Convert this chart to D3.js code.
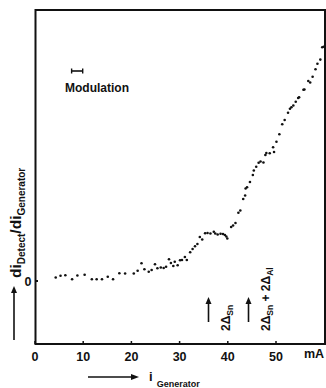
<!DOCTYPE html>
<html>
<head>
<meta charset="utf-8">
<script src="https://cdn.jsdelivr.net/npm/d3@7"></script>
<style>
  body { margin: 0; background: #fff; }
  svg { display: block; font-family: "Liberation Sans", Arial, sans-serif; font-weight: bold; }
</style>
</head>
<body>
<div id="chart"></div>
<script>
// generator current (mA) and detector response (arbitrary units, 0 = baseline)
const iGen = [
  4.4, 5.4, 6.4, 7.8, 8.9, 10.4, 11.9, 12.9, 14.0, 15.2, 16.3, 17.6, 18.8, 20.6,
  21.4, 22.2, 22.8, 23.7, 24.3, 25.0, 25.5, 26.2, 26.8, 27.3, 27.9, 28.3, 28.8,
  29.1, 29.7, 30.2, 30.6, 31.2, 31.6, 32.3, 32.8, 33.3, 33.8, 34.3, 34.8, 35.4,
  35.9, 36.5, 37.2, 37.5, 38.0, 38.6, 39.1, 39.5, 39.8, 40.0, 40.8, 41.2, 41.7,
  42.3, 42.7, 43.3, 43.7, 43.8, 44.1, 44.7, 45.3, 45.5, 46.0, 46.5, 46.9, 47.5,
  47.9, 48.1, 48.8, 49.5, 49.7, 50.2, 50.8, 51.4, 51.9, 52.6, 53.0, 53.3, 53.7,
  54.2, 54.7, 54.9, 55.8, 56.0, 56.8, 57.2, 57.7, 58.3, 58.7, 59.3, 59.7, 60.0
];
const ratio = [
  0.35, 0.53, 0.57, 0.18, 0.55, 0.62, 0.18, 0.18, 0.18, 0.42, 0.18, 0.77, 0.75, 0.75,
  1.02, 1.77, 1.18, 0.93, 1.10, 1.68, 1.27, 1.35, 1.30, 1.43, 2.17, 1.80, 1.50,
  1.93, 1.57, 2.07, 2.10, 2.40, 2.10, 2.88, 3.20, 3.47, 3.70, 4.40, 4.15, 4.77,
  4.80, 4.75, 4.93, 4.75, 4.65, 4.72, 4.70, 4.60, 4.45, 4.25, 5.40, 5.55, 5.80,
  6.83, 7.05, 8.20, 8.55, 9.25, 9.37, 9.90, 10.60, 11.05, 11.43, 11.83, 11.95, 11.85,
  12.60, 12.80, 12.77, 13.37, 12.90, 13.93, 14.68, 15.68, 16.10, 16.83, 17.23, 17.37, 17.55,
  17.93, 18.30, 18.37, 19.12, 19.15, 20.00, 19.85, 20.43, 21.17, 21.72, 22.14, 23.37, 23.43
];
const xTicks = [0, 10, 20, 30, 40, 50];
const yTicks = [0];
const markers = [
  { at: 36.1, sub1: "Sn", sub2: null },
  { at: 44.4, sub1: "Sn", sub2: "Al" }
];
const modulation = [7.7, 10.0]; // width of modulation bar, mA

const W = 326, H = 388;
const svg = d3.select("#chart").append("svg")
  .attr("width", W).attr("height", H);

const x = d3.scaleLinear().domain([0, 50]).range([34.5, 275.5]);
const y = d3.scaleLinear().domain([0, 10]).range([281, 181]);

// frame
const frame = { left: 35.5, top: 10, right: 325, bottom: 344 };
svg.append("rect")
  .attr("x", frame.left).attr("y", frame.top)
  .attr("width", frame.right - frame.left).attr("height", frame.bottom - frame.top)
  .attr("fill", "none").attr("stroke", "#111").attr("stroke-width", 2);

// x axis
const xAxis = svg.append("g")
  .attr("transform", `translate(0,${frame.bottom})`)
  .call(d3.axisBottom(x).tickValues(xTicks).tickSize(-3).tickPadding(8));
xAxis.select(".domain").remove();
xAxis.selectAll("line").attr("stroke", "#111").attr("stroke-width", 1.5);
xAxis.selectAll("text").attr("fill", "#111").style("font-size", "12.5px")
  .style("font-weight", "bold").style("font-family", "'Liberation Sans', Arial, sans-serif");

svg.append("text").attr("x", 314).attr("y", 358)
  .attr("text-anchor", "middle").style("font-size", "12.5px").attr("fill", "#111").text("mA");

// y axis: only zero
svg.selectAll(".ytick").data(yTicks).enter().append("text")
  .attr("x", 28).attr("y", d => y(d) + 4.5)
  .attr("text-anchor", "middle").style("font-size", "12.5px").attr("fill", "#111")
  .text(d => d);
svg.selectAll(".ytickmark").data(yTicks).enter().append("line")
  .attr("x1", frame.left).attr("x2", frame.left + 2.5)
  .attr("y1", d => y(d)).attr("y2", d => y(d))
  .attr("stroke", "#111").attr("stroke-width", 2);

// data points
svg.selectAll(".dot").data(iGen).enter().append("circle")
  .attr("cx", d => x(d))
  .attr("cy", (d, i) => y(ratio[i]))
  .attr("r", 1.3)
  .attr("fill", "#111");

// modulation bar
const my = 71;
svg.append("line").attr("x1", x(modulation[0])).attr("x2", x(modulation[1]))
  .attr("y1", my).attr("y2", my).attr("stroke", "#111").attr("stroke-width", 1.6);
modulation.forEach(m => {
  svg.append("line").attr("x1", x(m)).attr("x2", x(m))
    .attr("y1", my - 2.5).attr("y2", my + 2.5).attr("stroke", "#111").attr("stroke-width", 1.4);
});
svg.append("text").attr("x", 65).attr("y", 92)
  .style("font-size", "12px").attr("fill", "#111").text("Modulation");

// arrowheads
function upArrow(cx, y0, y1) {
  svg.append("line").attr("x1", cx).attr("x2", cx).attr("y1", y0).attr("y2", y1 + 5)
    .attr("stroke", "#111").attr("stroke-width", 1.6);
  svg.append("path")
    .attr("d", `M${cx - 3},${y1 + 7} L${cx},${y1} L${cx + 3},${y1 + 7} Z`)
    .attr("fill", "#111");
}

// edge markers
markers.forEach(m => {
  const mx = x(m.at);
  upArrow(mx, 322, 297);
  const t = svg.append("text")
    .attr("transform", `translate(${mx + 21},331) rotate(-90)`)
    .style("font-size", "12px").attr("fill", "#111");
  t.append("tspan").text("2Δ");
  t.append("tspan").attr("dy", 3).style("font-size", "8.5px").text(m.sub1);
  if (m.sub2) {
    t.append("tspan").attr("dy", -3).text(" + 2Δ");
    t.append("tspan").attr("dy", 3).style("font-size", "8.5px").text(m.sub2);
  }
});

// y label
upArrow(14, 340, 286);
const yl = svg.append("text")
  .attr("transform", "translate(21,278) rotate(-90)")
  .attr("fill", "#111").style("font-size", "15.5px");
yl.append("tspan").text("di");
yl.append("tspan").attr("dy", 3.5).style("font-size", "10px").text("Detect");
yl.append("tspan").attr("dy", -3.5).text("/di");
yl.append("tspan").attr("dy", 3.5).style("font-size", "10px").text("Generator");

// x label
svg.append("line").attr("x1", 88).attr("x2", 133).attr("y1", 377).attr("y2", 377)
  .attr("stroke", "#111").attr("stroke-width", 1.6);
svg.append("path").attr("d", "M131,374 L139,377 L131,380 Z").attr("fill", "#111");
const xl = svg.append("text").attr("x", 149).attr("y", 381)
  .attr("fill", "#111").style("font-size", "13px");
xl.append("tspan").text("i");
xl.append("tspan").attr("dx", 4).attr("dy", 6).style("font-size", "9px").text("Generator");
</script>
</body>
</html>
